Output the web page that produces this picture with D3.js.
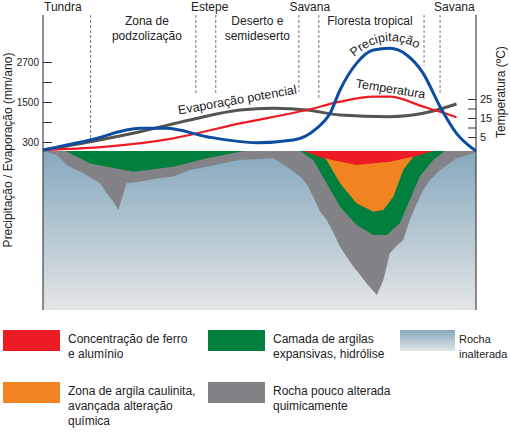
<!DOCTYPE html>
<html><head><meta charset="utf-8">
<script src="https://cdn.jsdelivr.net/npm/d3@7"></script>
<style>body{margin:0;background:#fff}text{font-family:"Liberation Sans",Arial,sans-serif;fill:#222}</style>
</head><body><div id="chart"></div>
<script>
// Transect position (0-100 %) and values
const precipPos = [0, 10.9, 22.4, 28.5, 37.8, 49.3, 57.8, 63.2, 66.3, 68.6, 72.4, 76.3, 80.1, 84, 87.8, 91.7, 95.5, 100];
const precipVal = [60, 360, 710, 710, 460, 280, 360, 710, 1160, 1860, 2660, 3060, 3110, 2910, 2360, 1360, 560, 30];
const evapPos = [0, 10.9, 22.4, 33.9, 45.5, 53.2, 60.9, 68.6, 80.1, 87.8, 95.5];
const evapVal = [60, 310, 610, 960, 1260, 1310, 1260, 1110, 1060, 1160, 1440];
const tempPos = [0, 14.7, 30.1, 45.5, 60.9, 68.6, 76.3, 80.1, 87.8, 91.7, 95.5];
const tempVal = [-1.8, -0.1, 4.3, 12.2, 19.2, 23.6, 26.2, 26.2, 21, 18.3, 15.4];

// Soil layer lower boundaries (depth 0-100 %)
const grayPos = [0, 3.2, 5.5, 9.3, 13.2, 14.7, 16, 17.4, 18.2, 19.3, 22.4, 26, 30.1, 34, 37.8, 41, 45.5, 53.2, 56.3, 59.4, 61, 62.4, 64, 65.5, 67, 68.6, 70, 71.7, 73, 74.7, 77.1, 78.6, 80.1, 81.5, 83.2, 84.7, 86, 87.8, 89.5, 91.7, 95.5, 99.4, 100];
const grayDep = [0, 2.5, 8.8, 14, 20.3, 26.6, 31, 37.1, 30, 20.3, 19.3, 17.5, 16.1, 12, 9.9, 8, 5.7, 4.6, 9.9, 16.1, 21, 28.7, 38, 43.4, 51, 60.2, 66, 72.8, 77, 83.2, 90.6, 81.1, 64.3, 60, 56, 43.4, 35, 24.5, 18, 11.9, 4.6, 1.4, 0];
const greenPos = [5.2, 7, 10.9, 20.9, 30.1, 37.8, 45.5, 47];
const greenDep = [0, 2.5, 7.8, 13, 9.9, 4.6, 0.4, 0];
const green2Pos = [59.4, 62.4, 65.5, 68.6, 72.4, 76.3, 79.4, 82.4, 84.7, 87, 90.1, 92.8];
const green2Dep = [0, 5.7, 20.3, 35, 46.5, 52.8, 52.8, 45.5, 30.8, 16.1, 5.7, 0];
const orangePos = [62.4, 65.5, 68.6, 72.4, 76.3, 78.6, 80.9, 83.2, 85.5, 89.4];
const orangeDep = [0, 5.7, 20.3, 32.9, 38.2, 37.1, 28.7, 11.9, 3.6, 0];
const redPos = [60.2, 64.8, 72.4, 80.1, 85.5, 90.1];
const redDep = [0, 4.6, 8.8, 6.7, 3.6, 0];

const zones = [
  {lines: ["Tundra"], x: 0, y: 11, anchor: "start"},
  {lines: ["Zona de", "podzolização"], x: 24, y: 25},
  {lines: ["Estepe"], x: 38.5, y: 11},
  {lines: ["Deserto e", "semideserto"], x: 49.5, y: 25},
  {lines: ["Savana"], x: 61.6, y: 11},
  {lines: ["Floresta tropical"], x: 75.5, y: 25},
  {lines: ["Savana"], x: 95, y: 11}
];
const dividers = [{p: 11, y2: 138}, {p: 35.3, y2: 93}, {p: 39.9, y2: 95}, {p: 59.1, y2: 92}, {p: 63.7, y2: 100}, {p: 88, y2: 66}, {p: 91.7, y2: 95}];

const leftTicks = [300, 900, 1500, 2100, 2700];
const leftLabels = [300, 1500, 2700];
const rightTicks = [5, 10, 15, 20, 25];
const rightLabels = [5, 15, 25];

const legend = [
  {color: "#ed1c24", lines: ["Concentração de ferro", "e alumínio"], col: 0, row: 0},
  {color: "#00803c", lines: ["Camada de argilas", "expansivas, hidrólise"], col: 1, row: 0},
  {color: "grad", lines: ["Rocha", "inalterada"], col: 2, row: 0},
  {color: "#f18421", lines: ["Zona de argila caulinita,", "avançada alteração", "química"], col: 0, row: 1},
  {color: "#838387", lines: ["Rocha pouco alterada", "quimicamente"], col: 1, row: 1}
];

const W = 510, H = 432;
const svg = d3.select("#chart").append("svg").attr("width", W).attr("height", H);

const x = d3.scaleLinear().domain([0, 100]).range([43, 476]);
const y = d3.scaleLinear().domain([300, 2700]).range([142, 62]);
const yT = d3.scaleLinear().domain([5, 25]).range([137, 99]);
const groundTop = 151, groundBot = 310;
const dep = d3.scaleLinear().domain([0, 100]).range([groundTop, groundBot]);

const defs = svg.append("defs");
const grad = defs.append("linearGradient").attr("id", "rock").attr("x1", 0).attr("y1", 0).attr("x2", 0).attr("y2", 1);
grad.append("stop").attr("offset", 0).attr("stop-color", "#86a9bd");
grad.append("stop").attr("offset", 1).attr("stop-color", "#e2e5e6");

// ground
svg.append("rect").attr("x", x(0)).attr("y", groundTop).attr("width", x(100) - x(0)).attr("height", groundBot - groundTop).attr("fill", "url(#rock)");

const layer = (pos, d, color) => {
  const pts = pos.map((p, i) => [p, d[i]]);
  svg.append("path")
    .attr("d", d3.area().x(v => x(v[0])).y0(groundTop).y1(v => dep(v[1]))(pts))
    .attr("fill", color);
};
layer(grayPos, grayDep, "#838387");
layer(greenPos, greenDep, "#00803c");
layer(green2Pos, green2Dep, "#00803c");
layer(orangePos, orangeDep, "#f18421");
layer(redPos, redDep, "#ed1c24");

// dividers
svg.selectAll(".div").data(dividers).enter().append("line")
  .attr("x1", d => x(d.p)).attr("x2", d => x(d.p)).attr("y1", 15).attr("y2", d => d.y2)
  .attr("stroke", "#555").attr("stroke-width", 0.8).attr("stroke-dasharray", "3,2");

// curves
const curve = (pos, vals, sc, color, w) => {
  svg.append("path")
    .attr("d", d3.line().x(v => x(v[0])).y(v => sc(v[1])).curve(d3.curveMonotoneX)(pos.map((p, i) => [p, vals[i]])))
    .attr("fill", "none").attr("stroke", color).attr("stroke-width", w);
};
curve(evapPos, evapVal, y, "#55554f", 3);
curve(tempPos, tempVal, yT, "#ed1c24", 2.2);
curve(precipPos, precipVal, y, "#0c4da2", 3);

// axes: ticks point inward, labels outside
svg.append("line").attr("x1", 43).attr("x2", 43).attr("y1", 15).attr("y2", groundBot).attr("stroke", "#444").attr("stroke-width", 1.2);
svg.append("line").attr("x1", 476).attr("x2", 476).attr("y1", 15).attr("y2", groundBot).attr("stroke", "#444").attr("stroke-width", 1.2);
const la = svg.append("g").attr("transform", "translate(43,0)")
  .call(d3.axisRight(y).tickValues(leftTicks).tickSize(9).tickFormat(""));
const ra = svg.append("g").attr("transform", "translate(476,0)")
  .call(d3.axisLeft(yT).tickValues(rightTicks).tickSize(8).tickFormat(""));
[la, ra].forEach(g => { g.select(".domain").remove(); g.selectAll("line").attr("stroke", "#333"); });
svg.selectAll(".llab").data(leftLabels).enter().append("text")
  .attr("x", 39).attr("y", d => y(d)).attr("dy", "0.35em").attr("text-anchor", "end")
  .style("font-size", "10px").text(d => d);
svg.selectAll(".rlab").data(rightLabels).enter().append("text")
  .attr("x", 480).attr("y", d => yT(d)).attr("dy", "0.35em").attr("text-anchor", "start")
  .style("font-size", "11px").text(d => d);

svg.append("text").attr("transform", "translate(12,150) rotate(-90)").attr("text-anchor", "middle")
  .style("font-size", "12px").text("Precipitação / Evaporação (mm/ano)");
svg.append("text").attr("transform", "translate(505,92) rotate(-90)").attr("text-anchor", "middle")
  .style("font-size", "12px").text("Temperatura (ºC)");

// zone labels
zones.forEach(z => {
  const t = svg.append("text").attr("x", x(z.x)).attr("y", z.y).attr("text-anchor", z.anchor || "middle").style("font-size", "12px");
  z.lines.forEach((l, i) => t.append("tspan").attr("x", z.anchor ? x(z.x) + 1 : x(z.x)).attr("dy", i ? 15 : 0).text(l));
});

// curve labels
svg.append("text").attr("transform", "translate(238,104) rotate(-10)").attr("text-anchor", "middle")
  .style("font-size", "12.5px").text("Evaporação potencial");
svg.append("text").attr("transform", "translate(390,93) rotate(9)").attr("text-anchor", "middle")
  .style("font-size", "12.5px").text("Temperatura");
defs.append("path").attr("id", "parc").attr("d", "M345,66 Q385,22 428,56");
svg.append("text").style("font-size", "12.5px").append("textPath").attr("href", "#parc")
  .attr("startOffset", "50%").attr("text-anchor", "middle").text("Precipitação");

// legend
const lg = svg.selectAll(".lg").data(legend).enter().append("g")
  .attr("transform", d => `translate(${[3, 208, 400][d.col]},${[330, 382][d.row]})`);
lg.append("rect").attr("width", d => d.col === 2 ? 55 : 57).attr("height", 21)
  .attr("fill", d => d.color === "grad" ? "url(#rock)" : d.color);
lg.each(function (d) {
  const tx = d.col === 2 ? 59 : 65;
  const t = d3.select(this).append("text").attr("x", tx).attr("y", 13).style("font-size", d.col === 2 ? "11px" : "12px");
  d.lines.forEach((l, i) => t.append("tspan").attr("x", tx).attr("dy", i ? 15 : 0).text(l));
});
</script></body></html>
